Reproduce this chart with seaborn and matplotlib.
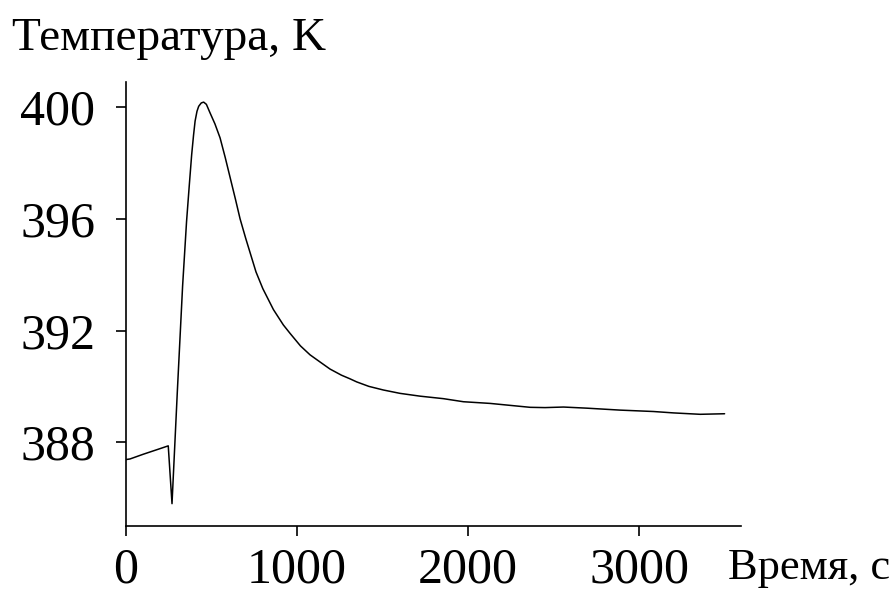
import numpy as np
import pandas as pd
import matplotlib
matplotlib.use('Agg')
import matplotlib.pyplot as plt
import seaborn as sns

# время, с
time_s = [0, 23, 101, 189, 247, 269, 300, 331, 354, 370, 384, 395, 404, 415,
          425, 440, 454, 470, 491, 520, 550, 580, 608, 640, 667, 700, 725,
          760, 800, 862, 920, 959, 1020, 1076, 1140, 1193, 1260, 1310, 1349,
          1420, 1505, 1602, 1719, 1856, 1973, 2129, 2246, 2363, 2450, 2558,
          2694, 2889, 3084, 3201, 3357, 3500]
# температура, K
temp_k = [387.38, 387.40, 387.57, 387.75, 387.87, 385.80, 389.8, 393.6,
          395.9, 397.2, 398.3, 399.0, 399.5, 399.85, 400.03, 400.15, 400.18,
          400.1, 399.8, 399.4, 398.9, 398.2, 397.5, 396.7, 396.0, 395.3,
          394.8, 394.1, 393.5, 392.75, 392.2, 391.9, 391.45, 391.13, 390.85,
          390.62, 390.4, 390.27, 390.16, 390.0, 389.87, 389.75, 389.65, 389.56,
          389.45, 389.39, 389.32, 389.25, 389.24, 389.26, 389.22, 389.15,
          389.10, 389.05, 389.00, 389.02]

x_ticks = [0, 1000, 2000, 3000]
y_ticks = [388, 392, 396, 400]

df = pd.DataFrame({'t': time_s, 'T': temp_k})

sns.set_style('ticks')
plt.rcParams['font.family'] = ['Liberation Serif', 'DejaVu Serif']
plt.rcParams['text.color'] = 'black'

fig = plt.figure(figsize=(8.93, 6.03), dpi=100)
ax = fig.add_axes([0.1411, 0.1277, 0.6887, 0.7363])

sns.lineplot(data=df, x='t', y='T', ax=ax, color='black', linewidth=1.1,
             sort=False, estimator=None)

ax.set_xlim(0, 3596)
ax.set_ylim(385, 400.9)
ax.set_xticks(x_ticks)
ax.set_yticks(y_ticks)
ax.tick_params(axis='both', labelsize=36, length=7, width=1.2, color='black',
               labelcolor='black')
ax.tick_params(axis='x', pad=8)
ax.tick_params(axis='y', pad=15)
ax.set_xlabel('')
ax.set_ylabel('')
for s in ['top', 'right']:
    ax.spines[s].set_visible(False)
for s in ['left', 'bottom']:
    ax.spines[s].set_linewidth(1.2)
    ax.spines[s].set_color('black')

fig.text(0.013, 0.917, 'Температура, K', fontsize=34, ha='left',
         va='baseline', color='black')
fig.text(0.997, 0.04, 'Время, с', fontsize=32, ha='right', va='baseline',
         color='black')

fig.savefig('out.png', dpi=100)
